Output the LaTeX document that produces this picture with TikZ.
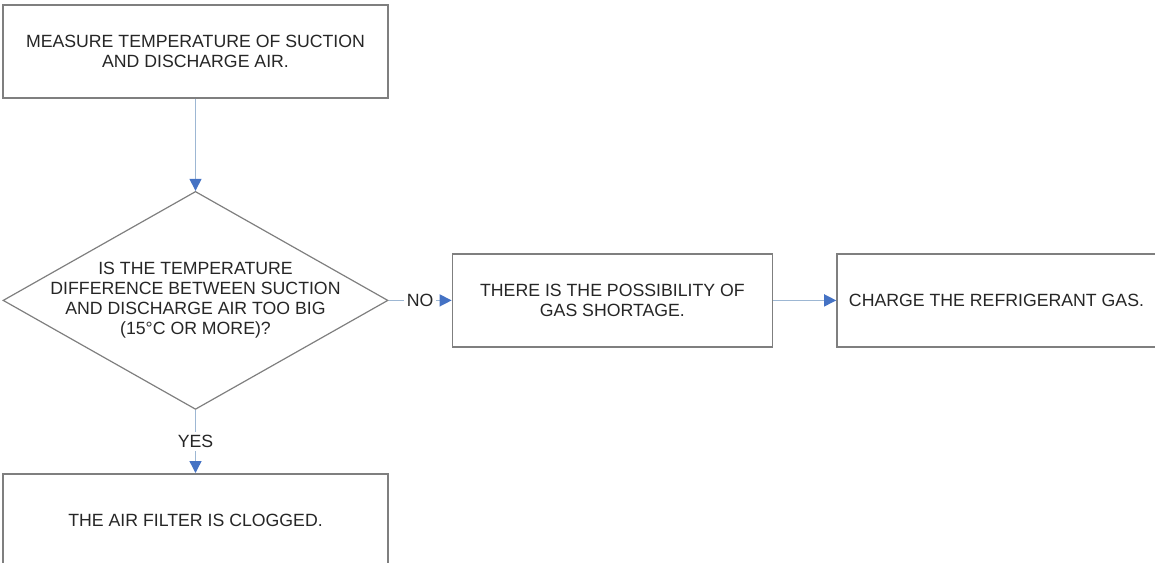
\documentclass[tikz,border=0pt]{standalone}
\usepackage{fontspec}
\setmainfont{Liberation Sans}
\usetikzlibrary{arrows.meta,positioning,shapes.geometric}
\definecolor{edge}{HTML}{7F7F7F}
\definecolor{wire}{HTML}{9DB7D3}
\definecolor{tip}{HTML}{4472C4}
\definecolor{ink}{HTML}{262626}
\tikzset{stepbox/.style={draw=edge,line width=0.8pt,fill=white,minimum width=192.5pt,
  minimum height=46.5pt,align=center,text=ink,font=\fontsize{8.85}{10}\selectfont},
  query/.style={draw=edge,line width=0.6pt,shape=diamond,minimum width=192.5pt,
  minimum height=109pt,inner sep=0pt},
  querytext/.style={align=center,text=ink,font=\fontsize{8.85}{10}\selectfont},
  link/.style={-{Triangle[length=6pt,width=6pt,color=tip]},line width=0.7pt,draw=wire},
  tag/.style={fill=white,inner sep=1.5pt,text=ink,font=\fontsize{8.85}{10}\selectfont}}
\begin{document}
\begin{tikzpicture}[x=0.5pt,y=-0.5pt,node distance=31.5pt and 31.5pt]
\useasboundingbox (0,0) rectangle (1155,562);
\node[stepbox] (measure) at (195.5,51.5) {MEASURE TEMPERATURE OF SUCTION\\AND DISCHARGE AIR.};
\node[query,below=46pt of measure] (check) {};
\node[querytext] (checktext) at (check) {IS THE TEMPERATURE\\DIFFERENCE BETWEEN SUCTION\\AND DISCHARGE AIR TOO BIG\\(15°C OR MORE)?};
\node[stepbox,right=of check,minimum width=160pt] (shortage) {THERE IS THE POSSIBILITY OF\\GAS SHORTAGE.};
\node[stepbox,right=of shortage,minimum width=159.5pt] (charge) {CHARGE THE REFRIGERANT GAS.};
\node[stepbox,below=of check] (filter) {THE AIR FILTER IS CLOGGED.};
\draw[link] (measure)--(check);
\draw[link] (check.east)--node[tag]{NO}(shortage);
\draw[link] (shortage)--(charge);
\draw[link] (check.south)--node[tag]{YES}(filter);
\end{tikzpicture}
\end{document}
